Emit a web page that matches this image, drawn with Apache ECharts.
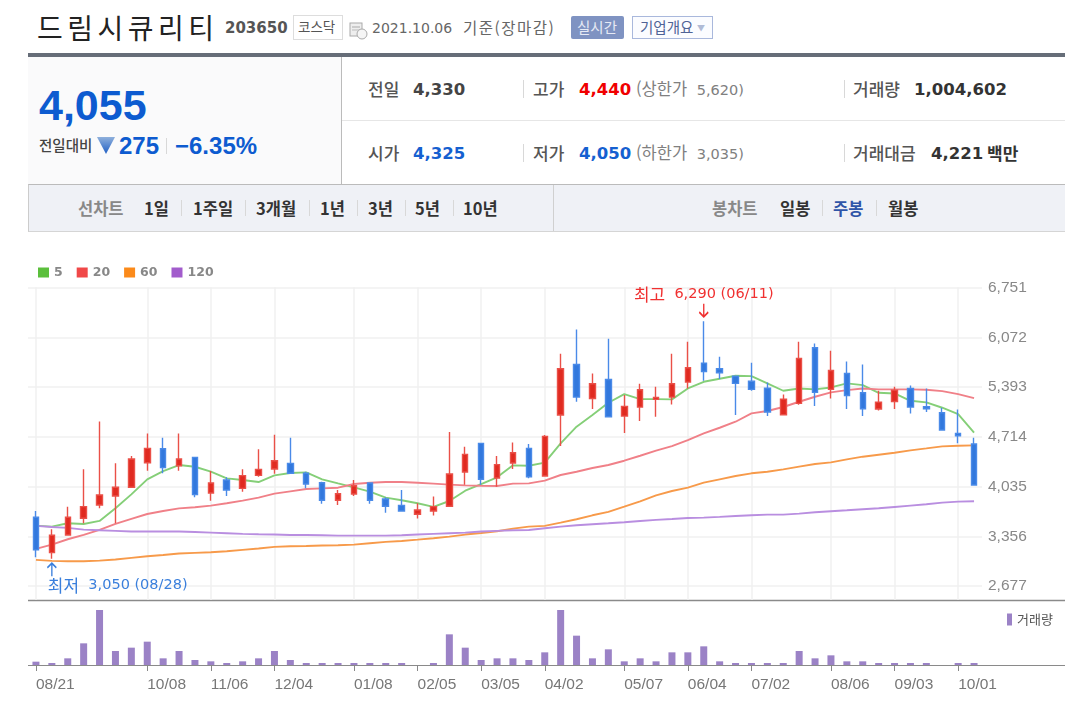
<!DOCTYPE html>
<html lang="ko">
<head>
<meta charset="utf-8">
<title>드림시큐리티</title>
<script src="https://cdn.jsdelivr.net/npm/echarts@6/dist/echarts.min.js"></script>
<style>
  html, body { margin: 0; padding: 0; background: #fff; }
  body { width: 1065px; height: 712px; position: relative; overflow: hidden;
         font-family: "Noto Sans CJK KR", "Liberation Sans", sans-serif; color: #444; }
  .t { position: absolute; white-space: nowrap; line-height: 1; }
  .box { position: absolute; box-sizing: border-box; }
  .num { font-family: "DejaVu Sans", sans-serif; font-weight: 700; font-size: 16.5px; }
  .big { font-family: "Liberation Sans", sans-serif; font-weight: 700; color: #0d5bd0; }
  .lb { font-size: 17px; font-weight: 500; color: #555; }
  .bk { font-size: 16.5px; font-weight: 700; color: #333; }
  .gr { font-family: "DejaVu Sans", "Noto Sans CJK KR", sans-serif; font-size: 14.5px; color: #808080; word-spacing: 5px; }
  .gr b { font-family: "Noto Sans CJK KR"; font-size: 16.5px; font-weight: 400; }
  .sep { position: absolute; width: 1px; background: #d8d8d8; }
  #chart { position: absolute; left: 0; top: 240px; width: 1065px; height: 472px; }
</style>
</head>
<body>
  <!-- 상단 종목 정보 -->
  <span class="t" style="left:37px;top:13px;font-size:28px;color:#222;letter-spacing:4.5px;font-weight:400">드림시큐리티</span>
  <span class="t" style="left:225px;top:21px;font-family:'DejaVu Sans';font-weight:700;font-size:15px;color:#555">203650</span>
  <div class="box" style="left:293px;top:15px;width:50px;height:25px;border:1px solid #ddd"></div>
  <span class="t" style="left:298px;top:20px;font-size:13.5px;color:#555">코스닥</span>
  <svg class="box" style="left:349px;top:21px" width="19" height="19" viewBox="0 0 19 19">
    <rect x="1" y="2" width="12" height="13" fill="#eee" stroke="#aaa"/>
    <line x1="3" y1="6" x2="11" y2="6" stroke="#aaa"/><line x1="3" y1="9" x2="11" y2="9" stroke="#bbb"/>
    <circle cx="13" cy="13" r="5" fill="#f5f5f5" stroke="#aaa"/>
  </svg>
  <span class="t gr" style="left:372px;top:21px;font-size:14px;color:#666">2021.10.06</span>
  <span class="t" style="left:463px;top:20px;font-size:15.5px;color:#666;letter-spacing:1.5px">기준(장마감)</span>
  <div class="box" style="left:571px;top:16px;width:53px;height:23px;background:#7f93c2;border-radius:2px"></div>
  <span class="t" style="left:577px;top:20px;font-size:14.5px;color:#e6eaf5">실시간</span>
  <div class="box" style="left:632px;top:16px;width:81px;height:23px;background:#fbfcff;border:1px solid #a9b8dc"></div>
  <span class="t" style="left:640px;top:20px;font-size:14.5px;color:#4f6396">기업개요</span>
  <span class="t" style="left:697px;top:24px;font-size:8px;color:#b0bbd6">▼</span>

  <div class="box" style="left:28px;top:53px;width:1037px;height:4px;background:#666d78"></div>
  <div class="box" style="left:28px;top:57px;width:314px;height:127px;background:#fafafb;border-right:1px solid #bbb"></div>
  <div class="box" style="left:342px;top:120px;width:723px;height:1px;background:#e6e6e6"></div>

  <span class="t big" style="left:39px;top:84px;font-size:43px">4,055</span>
  <span class="t" style="left:39px;top:138px;font-size:14.5px;font-weight:500;color:#444">전일대비</span>
  <svg class="box" style="left:97px;top:137px" width="18" height="17" viewBox="0 0 18 17">
    <defs><linearGradient id="g" x1="0" y1="0" x2="0" y2="1"><stop offset="0" stop-color="#8fb0dc"/><stop offset="1" stop-color="#1f5fc4"/></linearGradient></defs>
    <polygon points="0,0 18,0 9,17" fill="url(#g)"/>
  </svg>
  <span class="t big" style="left:119px;top:134px;font-size:24px">275</span>
  <div class="sep" style="left:166px;top:138px;height:16px"></div>
  <span class="t big" style="left:175px;top:134px;font-size:24px">−6.35%</span>

  <span class="t lb" style="left:368px;top:80px">전일</span>
  <span class="t num" style="left:413px;top:82px;color:#444">4,330</span>
  <div class="sep" style="left:523px;top:80px;height:18px"></div>
  <span class="t lb" style="left:533px;top:80px">고가</span>
  <span class="t num" style="left:579px;top:82px;color:#f00000">4,440</span>
  <span class="t gr" style="left:636px;top:80px"><b>(상한가</b> 5,620)</span>
  <div class="sep" style="left:844px;top:80px;height:18px"></div>
  <span class="t lb" style="left:853px;top:80px">거래량</span>
  <span class="t num" style="left:914px;top:82px;color:#333">1,004,602</span>

  <span class="t lb" style="left:368px;top:144px">시가</span>
  <span class="t num" style="left:413px;top:146px;color:#1560d0">4,325</span>
  <div class="sep" style="left:523px;top:144px;height:18px"></div>
  <span class="t lb" style="left:533px;top:144px">저가</span>
  <span class="t num" style="left:579px;top:146px;color:#1560d0">4,050</span>
  <span class="t gr" style="left:636px;top:144px"><b>(하한가</b> 3,035)</span>
  <div class="sep" style="left:844px;top:144px;height:18px"></div>
  <span class="t lb" style="left:853px;top:144px">거래대금</span>
  <span class="t num" style="left:931px;top:146px;color:#333">4,221</span>
  <span class="t" style="left:987px;top:144px;font-size:17px;font-weight:700;color:#333">백만</span>

  <!-- 선차트 / 봉차트 탭 -->
  <div class="box" style="left:28px;top:184px;width:1037px;height:48px;background:#eff1f6;border-top:1px solid #bbb;border-bottom:1px solid #d5d5d5;border-left:1px solid #ccc"></div>
  <div class="box" style="left:553px;top:185px;width:1px;height:46px;background:#d0d0d0"></div>
  <span class="t bk" style="left:78px;top:200px;color:#888">선차트</span>
  <span class="t bk" style="left:144px;top:200px">1일</span>
  <div class="sep" style="left:181px;top:200px;height:16px"></div>
  <span class="t bk" style="left:193px;top:200px">1주일</span>
  <div class="sep" style="left:245px;top:200px;height:16px"></div>
  <span class="t bk" style="left:256px;top:200px">3개월</span>
  <div class="sep" style="left:309px;top:200px;height:16px"></div>
  <span class="t bk" style="left:320px;top:200px">1년</span>
  <div class="sep" style="left:357px;top:200px;height:16px"></div>
  <span class="t bk" style="left:368px;top:200px">3년</span>
  <div class="sep" style="left:405px;top:200px;height:16px"></div>
  <span class="t bk" style="left:415px;top:200px">5년</span>
  <div class="sep" style="left:453px;top:200px;height:16px"></div>
  <span class="t bk" style="left:463px;top:200px">10년</span>
  <span class="t bk" style="left:712px;top:200px;color:#888">봉차트</span>
  <span class="t bk" style="left:780px;top:200px">일봉</span>
  <div class="sep" style="left:822px;top:200px;height:16px"></div>
  <span class="t bk" style="left:833px;top:200px;color:#2f55a8">주봉</span>
  <div class="sep" style="left:876px;top:200px;height:16px"></div>
  <span class="t bk" style="left:888px;top:200px">월봉</span>

  <div id="chart"></div>

<script>
  // 주봉 날짜
  const dates = [
    '08/21', '08/28', '09/04', '09/11', '09/18', '09/25', '09/29', '10/08', '10/16', '10/23',
    '10/30', '11/06', '11/13', '11/20', '11/27', '12/04', '12/11', '12/18', '12/24', '12/30',
    '01/08', '01/15', '01/22', '01/29', '02/05', '02/10', '02/19', '02/26', '03/05', '03/12',
    '03/19', '03/26', '04/02', '04/09', '04/16', '04/23', '04/30', '05/07', '05/14', '05/21',
    '05/28', '06/04', '06/11', '06/18', '06/25', '07/02', '07/09', '07/16', '07/23', '07/30',
    '08/06', '08/13', '08/20', '08/27', '09/03', '09/10', '09/17', '09/24', '10/01', '10/06'
  ]
  const dateLabels = ['08/21', '10/08', '11/06', '12/04', '01/08', '02/05', '03/05', '04/02', '05/07', '06/04', '07/02', '08/06', '09/03', '10/01']
  const priceTicks = [2677, 3356, 4035, 4714, 5393, 6072, 6751]

  const opens = [
    3615, 3133, 3374, 3601, 3783, 3906, 4024, 4360, 4551, 4319,
    4433, 3947, 4124, 4010, 4187, 4274, 4351, 4215, 4087, 3847,
    3933, 4083, 3865, 3778, 3656, 3701, 3765, 4233, 4623, 4151,
    4355, 4555, 4179, 5010, 5701, 5237, 5496, 4996, 5119, 5224,
    5255, 5460, 5719, 5642, 5542, 5473, 5378, 5015, 5169, 5928,
    5360, 5578, 5314, 5092, 5196, 5373, 5124, 5042, 4760, 4615
  ]
  const closes = [
    3170, 3370, 3615, 3760, 3919, 4024, 4410, 4555, 4292, 4410,
    3924, 4083, 3987, 4183, 4269, 4387, 4215, 4069, 3847, 3937,
    4046, 3847, 3765, 3701, 3715, 3760, 4205, 4473, 4133, 4333,
    4496, 4169, 4719, 5642, 5255, 5437, 4987, 5128, 5355, 5251,
    5437, 5655, 5605, 5587, 5442, 5360, 5051, 5228, 5782, 5319,
    5619, 5278, 5096, 5187, 5351, 5119, 5096, 4806, 4728, 4055
  ]
  const lows = [
    3070, 3050, 3374, 3533, 3737, 3533, 4024, 4251, 4215, 4251,
    3887, 3842, 3906, 3965, 4169, 4210, 4215, 4010, 3801, 3783,
    3906, 3801, 3678, 3701, 3597, 3638, 3765, 4060, 4060, 4033,
    4274, 4146, 4179, 4588, 5192, 5092, 4978, 4765, 4928, 4987,
    5155, 5373, 5478, 5501, 5010, 5342, 4996, 5015, 5151, 5133,
    5237, 5092, 4996, 5074, 5092, 5033, 5051, 4806, 4624, 4050
  ]
  const highs = [
    3701, 3451, 3760, 4269, 4923, 4351, 4451, 4760, 4701, 4760,
    4433, 4246, 4160, 4269, 4542, 4742, 4701, 4237, 4101, 3987,
    4124, 4087, 3887, 3987, 3806, 3897, 4778, 4578, 4623, 4451,
    4637, 4614, 4737, 5846, 6178, 5578, 6050, 5283, 5437, 5396,
    5846, 6010, 6290, 5805, 5542, 5723, 5455, 5292, 6010, 5987,
    5887, 5742, 5701, 5342, 5396, 5414, 5373, 5110, 5087, 4701
  ]
  const ma5 = [
    3501, 3488, 3533, 3524, 3565, 3738, 3928, 4133, 4246, 4328,
    4305, 4237, 4146, 4124, 4096, 4187, 4219, 4228, 4133, 4078,
    4024, 3965, 3883, 3847, 3806, 3756, 3837, 3978, 4069, 4160,
    4324, 4319, 4360, 4624, 4851, 5010, 5178, 5296, 5228, 5228,
    5224, 5373, 5464, 5505, 5546, 5542, 5442, 5342, 5373, 5360,
    5387, 5442, 5419, 5314, 5305, 5205, 5183, 5110, 5024, 4769
  ]
  const ma20 = [
    3183, 3242, 3315, 3374, 3442, 3524, 3592, 3660, 3701, 3737,
    3751, 3774, 3806, 3842, 3883, 3937, 3969, 4001, 4010, 4019,
    4069, 4087, 4096, 4096, 4087, 4074, 4060, 4051, 4046, 4042,
    4074, 4078, 4115, 4192, 4237, 4287, 4328, 4387, 4455, 4524,
    4587, 4669, 4760, 4837, 4919, 5033, 5065, 5120, 5192, 5260,
    5319, 5351, 5373, 5360, 5360, 5360, 5355, 5337, 5296, 5242
  ]
  const ma60 = [
    3033, 3020, 3015, 3015, 3024, 3038, 3061, 3083, 3101, 3120,
    3129, 3138, 3151, 3170, 3188, 3211, 3220, 3224, 3229, 3233,
    3242, 3261, 3279, 3292, 3310, 3329, 3351, 3379, 3401, 3424,
    3460, 3488, 3497, 3542, 3588, 3642, 3688, 3760, 3833, 3915,
    3974, 4019, 4087, 4133, 4178, 4215, 4237, 4269, 4306, 4342,
    4365, 4405, 4442, 4469, 4496, 4528, 4555, 4583, 4592, 4596
  ]
  const ma120 = [
    3497, 3483, 3470, 3447, 3438, 3429, 3420, 3420, 3420, 3420,
    3415, 3406, 3397, 3388, 3383, 3379, 3374, 3374, 3370, 3365,
    3365, 3365, 3365, 3370, 3379, 3388, 3397, 3406, 3420, 3429,
    3438, 3442, 3465, 3488, 3506, 3520, 3533, 3547, 3565, 3579,
    3592, 3606, 3610, 3620, 3633, 3642, 3651, 3651, 3665, 3683,
    3697, 3710, 3724, 3738, 3756, 3774, 3792, 3815, 3829, 3833
  ]
  // 거래량 (막대 높이 기준 추정치)
  const volumes = [
    10, 6, 20, 65, 165, 42, 52, 70, 20, 42,
    15, 11, 6, 11, 20, 42, 15, 6, 6, 6,
    6, 6, 6, 6, 0, 6, 92, 52, 15, 20,
    20, 15, 38, 165, 88, 20, 47, 11, 20, 11,
    38, 38, 56, 11, 6, 6, 6, 6, 42, 20,
    29, 11, 11, 6, 6, 6, 6, 0, 6, 6
  ]

  const chart = echarts.init(document.getElementById('chart'))

  const numberFont = '"Liberation Sans", sans-serif'
  const arrowPath = 'path://M5 0L5 14M1 5L5 0L9 5'
  const showDate = (index, value) => dateLabels.includes(value)
  const maLine = (name, data, line, legendColor) => ({
    name,
    type: 'line',
    data,
    showSymbol: false,
    z: 2,
    silent: true,
    lineStyle: { color: line, width: 1.9 },
    itemStyle: { color: legendColor }
  })

  chart.setOption({
    animation: false,
    legend: [
      {
        data: ['5', '20', '60', '120'],
        left: 38,
        top: 26,
        padding: 0,
        icon: 'rect',
        itemWidth: 11,
        itemHeight: 10,
        itemGap: 14,
        selectedMode: false,
        textStyle: { color: '#888', fontFamily: '"DejaVu Sans"', fontWeight: 700, fontSize: 12.5 }
      },
      {
        data: ['거래량'],
        left: 1007,
        top: 373,
        padding: 0,
        icon: 'rect',
        itemWidth: 5,
        itemHeight: 12,
        selectedMode: false,
        textStyle: { color: '#555', fontFamily: '"Noto Sans CJK KR"', fontSize: 13 }
      }
    ],
    grid: [
      { left: 28, right: 83, top: 47.5, height: 312.5 },
      { left: 28, right: 83, top: 370, height: 55 }
    ],
    xAxis: [
      {
        type: 'category',
        data: dates,
        gridIndex: 0,
        axisLine: { show: false },
        axisTick: { show: false },
        axisLabel: { show: false },
        splitLine: {
          show: true,
          interval: showDate,
          alignWithLabel: true,
          lineStyle: { color: '#f0f0f0', width: 1.5 }
        }
      },
      {
        type: 'category',
        data: dates,
        gridIndex: 1,
        axisLine: { show: false },
        axisTick: { show: true, interval: showDate, alignWithLabel: true, length: 6, lineStyle: { color: '#888' } },
        axisLabel: {
          interval: showDate,
          align: 'left',
          margin: 12,
          color: '#777',
          fontFamily: numberFont,
          fontSize: 15.5
        },
        splitLine: { show: false }
      }
    ],
    yAxis: [
      {
        type: 'value',
        position: 'right',
        gridIndex: 0,
        min: 2486,
        max: 6751,
        axisLine: { show: false },
        axisTick: { show: false, customValues: priceTicks },
        axisLabel: {
          customValues: priceTicks,
          margin: 6,
          color: '#888',
          fontFamily: numberFont,
          fontSize: 15.5,
          formatter: v => v.toLocaleString('en-US')
        },
        splitLine: { show: true, lineStyle: { color: '#f0f0f0', width: 1.5 } }
      },
      {
        type: 'value',
        gridIndex: 1,
        min: 0,
        max: 165,
        show: false
      }
    ],
    series: [
      maLine('5', ma5, '#85cf78', '#5bbf3c'),
      maLine('20', ma20, '#f08088', '#f04848'),
      maLine('60', ma60, '#f79a4a', '#fb8a1a'),
      maLine('120', ma120, '#b98ee0', '#a25ccc'),
      {
        name: '시세',
        type: 'candlestick',
        z: 3,
        barWidth: 6,
        data: dates.map((d, i) => [opens[i], closes[i], lows[i], highs[i]]),
        itemStyle: {
          color: '#e02a20',
          color0: '#3278dd',
          borderColor: '#ea5048',
          borderColor0: '#4a8ae8',
          borderWidth: 1.4
        },
        markPoint: {
          silent: true,
          data: [
            {
              coord: ['06/11', 6290],
              symbol: arrowPath,
              symbolSize: [9, 13],
              symbolRotate: 180,
              symbolOffset: [0, -11],
              itemStyle: { color: 'none', borderColor: '#f03030', borderWidth: 1.6 },
              label: { show: false }
            },
            {
              coord: ['06/11', 6290],
              symbol: 'circle',
              symbolSize: 0,
              label: {
                show: true,
                position: 'inside',
                offset: [0, -27],
                color: '#f03030',
                fontFamily: '"DejaVu Sans", "Noto Sans CJK KR"',
                fontSize: 14.5,
                formatter: '{k|최고}  6,290 (06/11)',
                rich: { k: { fontFamily: '"Noto Sans CJK KR"', fontSize: 17, color: '#f03030' } }
              }
            },
            {
              coord: ['08/28', 3050],
              symbol: arrowPath,
              symbolSize: [9, 13],
              symbolOffset: [0, 11],
              itemStyle: { color: 'none', borderColor: '#3a7fdc', borderWidth: 1.6 },
              label: { show: false }
            },
            {
              coord: ['08/28', 3050],
              symbol: 'circle',
              symbolSize: 0,
              label: {
                show: true,
                position: 'inside',
                align: 'left',
                offset: [-4, 27],
                color: '#3a7fdc',
                fontFamily: '"DejaVu Sans", "Noto Sans CJK KR"',
                fontSize: 14.5,
                formatter: '{k|최저}  3,050 (08/28)',
                rich: { k: { fontFamily: '"Noto Sans CJK KR"', fontSize: 17, color: '#3a7fdc' } }
              }
            }
          ]
        }
      },
      {
        name: '거래량',
        type: 'bar',
        xAxisIndex: 1,
        yAxisIndex: 1,
        barWidth: 7,
        data: volumes,
        itemStyle: { color: '#9b82c6' }
      }
    ],
    // 구분선은 패널 오른쪽 끝까지 이어짐
    graphic: [
      { type: 'line', silent: true, shape: { x1: 28, y1: 360.5, x2: 1065, y2: 360.5 }, style: { stroke: '#8a8a8a', lineWidth: 1.5 } },
      { type: 'line', silent: true, shape: { x1: 28, y1: 425.5, x2: 1065, y2: 425.5 }, style: { stroke: '#8a8a8a', lineWidth: 1.2 } }
    ]
  })
</script>
</body>
</html>
